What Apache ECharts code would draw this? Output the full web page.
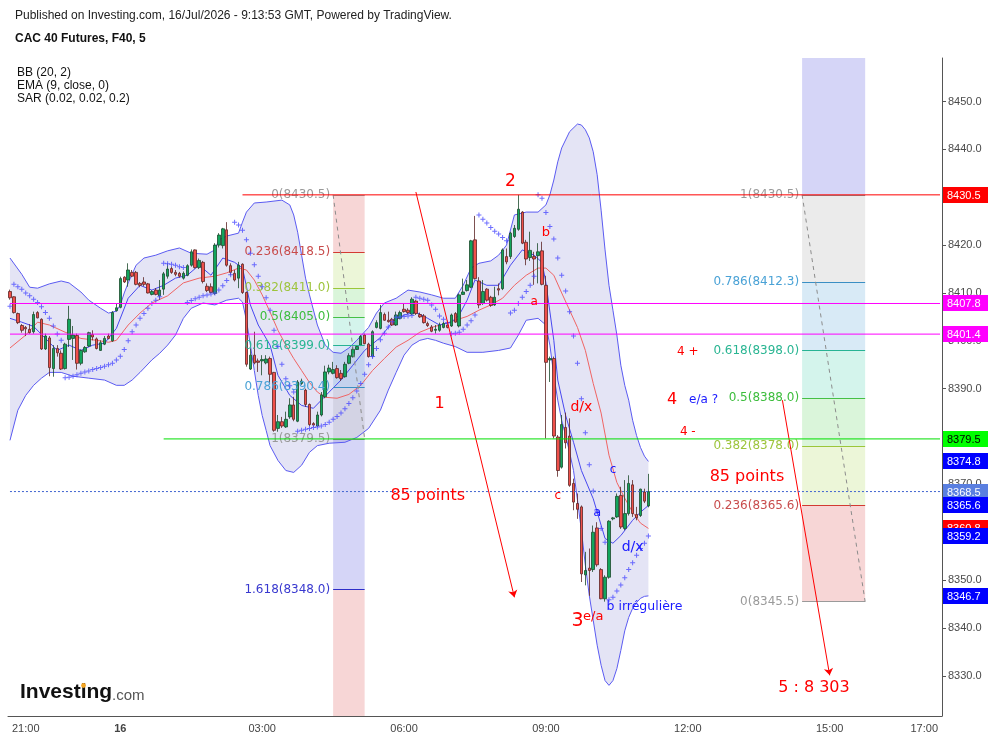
<!DOCTYPE html>
<html>
<head>
<meta charset="utf-8">
<title>CAC 40 Futures, F40, 5</title>
<script src="https://cdn.jsdelivr.net/npm/echarts@6.0.0/dist/echarts.min.js"></script>
<style>html,body{margin:0;padding:0;background:#fff;}#chart{width:993px;height:741px;}</style>
</head>
<body>
<div id="chart"></div>
<script>
// ---------------- DATA ----------------
// 5-minute candles from 20:40 to 11:10, [open, close, low, high]
const ohlc = [
[8410.3,8409.0,8408.6,8410.7],[8409.2,8405.9,8405.7,8409.3],[8405.7,8403.8,8403.5,8405.9],[8403.2,8402.2,8401.7,8403.5],
[8402.8,8402.5,8401.0,8403.1],[8402.4,8401.7,8401.5,8403.5],[8401.9,8405.5,8401.5,8406.1],[8405.9,8404.8,8404.7,8406.2],
[8404.5,8398.3,8398.1,8404.7],[8398.3,8401.0,8398.1,8401.5],[8400.6,8394.4,8392.6,8401.0],[8394.2,8398.4,8392.5,8399.1],
[8398.4,8397.5,8396.7,8399.1],[8397.4,8394.1,8393.9,8398.0],[8394.2,8399.3,8394.0,8399.6],[8400.3,8404.5,8398.7,8407.3],
[8400.5,8401.2,8396.0,8403.1],[8401.1,8395.3,8394.0,8401.5],[8395.3,8398.0,8394.9,8398.2],[8397.7,8398.6,8397.5,8398.9],
[8398.9,8401.7,8398.7,8401.9],[8401.3,8400.8,8400.1,8402.2],[8400.4,8398.4,8398.2,8400.7],[8398.0,8399.6,8397.9,8400.1],
[8399.3,8400.5,8399.1,8401.0],[8401.0,8400.5,8400.3,8401.5],[8400.0,8405.9,8399.8,8406.2],[8406.3,8406.9,8406.1,8407.8],
[8407.0,8413.0,8406.8,8413.4],[8413.3,8412.3,8412.1,8413.5],[8412.7,8414.8,8411.3,8416.2],[8414.3,8413.5,8413.3,8414.8],
[8414.3,8411.8,8411.6,8414.6],[8412.0,8411.6,8411.2,8412.3],[8412.3,8411.8,8411.4,8413.3],[8411.9,8410.0,8409.9,8412.1],
[8409.7,8410.3,8409.5,8410.6],[8410.6,8409.7,8409.5,8411.0],[8409.4,8410.6,8408.6,8412.7],[8410.8,8414.0,8409.6,8414.4],
[8413.5,8415.0,8413.0,8416.2],[8415.1,8414.3,8414.0,8415.5],[8414.3,8413.9,8413.5,8414.8],[8414.1,8413.5,8413.2,8414.4],
[8413.1,8414.1,8412.8,8414.5],[8413.7,8415.7,8413.5,8416.0],[8415.8,8418.6,8415.5,8419.1],[8419.0,8415.3,8415.1,8419.1],
[8415.3,8416.8,8415.0,8417.2],[8416.4,8412.4,8412.0,8416.7],[8411.4,8410.5,8410.2,8412.0],[8411.3,8410.1,8409.9,8412.0],
[8409.9,8420.0,8409.6,8420.4],[8420.0,8422.1,8419.5,8422.5],[8419.9,8423.4,8419.3,8423.6],[8423.2,8415.8,8415.5,8424.8],
[8415.7,8414.3,8413.7,8416.2],[8414.1,8412.7,8412.4,8414.8],[8413.1,8415.8,8411.0,8416.5],[8416.0,8410.1,8409.8,8416.2],
[8410.1,8395.1,8394.6,8410.3],[8394.1,8397.0,8393.9,8398.4],[8397.0,8395.4,8395.1,8401.9],[8395.8,8395.5,8393.5,8396.3],
[8395.8,8396.1,8392.8,8397.0],[8395.4,8396.2,8395.1,8397.0],[8396.3,8393.0,8391.1,8396.7],[8393.4,8381.3,8381.0,8393.5],
[8381.7,8383.1,8381.0,8384.5],[8383.1,8382.2,8381.8,8384.1],[8382.0,8383.6,8381.8,8385.2],[8384.1,8386.6,8383.7,8388.0],
[8386.6,8383.6,8383.2,8388.3],[8383.2,8391.4,8383.0,8391.8],[8391.1,8391.6,8390.8,8392.1],[8389.7,8386.7,8386.2,8390.0],
[8386.7,8382.5,8382.2,8386.9],[8382.7,8382.4,8382.0,8383.0],[8382.2,8384.5,8382.0,8385.2],[8384.5,8388.7,8384.2,8389.3],
[8388.3,8393.5,8388.0,8394.8],[8393.5,8394.3,8393.0,8395.0],[8393.2,8394.0,8393.0,8395.6],[8394.2,8392.3,8392.1,8394.9],
[8393.2,8392.1,8391.6,8393.9],[8392.5,8395.1,8392.3,8395.6],[8395.3,8396.9,8395.1,8397.4],[8396.7,8398.2,8396.5,8398.7],
[8398.2,8398.8,8398.1,8399.1],[8399.1,8400.9,8398.9,8401.2],[8401.2,8399.4,8399.3,8401.5],[8399.3,8396.7,8396.5,8399.6],
[8396.7,8401.9,8396.5,8402.2],[8402.8,8403.8,8402.6,8404.3],[8402.6,8405.9,8402.4,8407.5],[8405.5,8404.3,8404.2,8405.9],
[8404.3,8404.0,8403.8,8406.1],[8404.5,8403.3,8403.1,8404.8],[8403.3,8405.4,8403.1,8406.1],[8404.7,8405.9,8404.5,8406.3],
[8406.6,8406.1,8405.9,8407.8],[8406.4,8405.9,8405.6,8406.8],[8405.6,8408.7,8405.4,8409.1],[8408.3,8405.7,8405.4,8408.5],
[8405.5,8405.0,8404.8,8405.9],[8405.2,8403.8,8403.6,8405.6],[8403.6,8403.2,8402.9,8404.0],[8402.9,8402.0,8401.8,8403.3],
[8402.2,8402.4,8401.5,8403.3],[8402.2,8403.3,8401.9,8403.8],[8402.8,8403.6,8402.6,8404.0],[8403.3,8402.8,8402.6,8403.6],
[8403.1,8405.4,8402.9,8405.7],[8405.7,8403.9,8403.8,8406.0],[8403.1,8409.6,8402.8,8409.9],[8409.7,8410.2,8409.6,8413.0],
[8410.5,8411.7,8410.3,8412.7],[8411.2,8420.9,8411.0,8421.1],[8421.1,8413.0,8412.8,8426.1],[8412.5,8407.5,8406.8,8413.3],
[8407.8,8410.3,8407.5,8412.7],[8410.8,8408.5,8408.2,8411.0],[8409.1,8407.4,8407.1,8409.4],[8407.5,8409.1,8407.3,8411.3],
[8410.9,8410.6,8409.5,8412.0],[8410.9,8419.0,8410.6,8419.3],[8417.6,8416.5,8416.0,8419.3],[8417.6,8422.5,8417.1,8422.8],
[8421.8,8423.5,8421.5,8424.2],[8423.3,8427.5,8423.0,8430.5],[8426.9,8420.4,8420.2,8427.1],[8420.6,8417.1,8415.8,8421.1],
[8417.4,8418.9,8416.7,8422.8],[8417.6,8417.1,8411.7,8418.6],[8417.8,8418.6,8412.0,8420.4],[8418.8,8411.8,8411.6,8420.7],
[8411.6,8395.5,8379.6,8413.6],[8396.0,8396.3,8391.4,8396.7],[8396.3,8380.1,8379.6,8396.7],[8379.9,8372.9,8371.6,8380.3],
[8373.6,8382.5,8373.3,8384.5],[8381.9,8378.7,8377.5,8385.0],[8380.1,8369.8,8369.5,8383.8],[8370.2,8366.3,8364.6,8371.2],
[8366.0,8364.8,8362.8,8368.1],[8365.3,8351.3,8349.6,8365.6],[8351.1,8352.0,8348.9,8355.9],[8352.5,8352.0,8346.7,8356.6],
[8352.2,8360.0,8351.7,8361.4],[8360.9,8353.2,8352.8,8362.1],[8352.2,8346.1,8346.0,8352.5],[8346.1,8350.6,8345.5,8351.0],
[8350.6,8362.3,8350.3,8362.5],[8362.8,8363.0,8362.5,8363.2],[8363.2,8367.5,8363.0,8368.1],[8367.7,8361.1,8360.7,8369.5],
[8360.8,8363.9,8360.4,8370.9],[8363.9,8370.2,8363.5,8371.9],[8369.9,8363.9,8363.2,8370.9],[8363.7,8363.0,8362.5,8365.3],
[8363.5,8369.0,8363.2,8369.1],[8368.4,8366.5,8366.1,8369.1],[8365.5,8368.5,8365.2,8372.2]
];

// Bollinger upper / lower / basis and EMA(9), read at [barIndex, value]
const bbUpper = [[0,8417.3],[3,8413.9],[5,8411.2],[7,8411.0],[10,8411.9],[13,8412.5],[15,8412.1],[18,8410.2],[20,8408.5],[23,8406.8],[25,8405.8],[27,8406.2],[28,8407.5],[29,8410.0],[30,8412.1],[32,8415.8],[34,8417.3],[37,8417.9],[40,8418.8],[43,8419.4],[46,8418.3],[50,8418.1],[52,8419.0],[53,8421.1],[55,8421.9],[58,8422.5],[59,8424.8],[60,8426.9],[62,8428.8],[65,8429.0],[69,8429.4],[71,8428.4],[72,8426.3],[73,8422.7],[74,8417.9],[75,8413.1],[76,8409.6],[78,8403.3],[80,8399.1],[82,8397.6],[84,8397.4],[86,8398.5],[88,8400.1],[91,8402.8],[93,8405.8],[95,8407.9],[98,8408.9],[101,8410.6],[104,8410.2],[107,8409.6],[110,8408.9],[113,8408.9],[115,8411.6],[117,8415.2],[119,8416.2],[122,8416.7],[124,8417.9],[126,8420.0],[128,8426.3],[131,8426.9],[134,8426.9],[136,8428.4],[137,8430.5],[138,8433.6],[139,8437.4],[140,8440.3],[142,8443.7],[144,8445.3],[145,8445.1],[146,8444.1],[147,8442.4],[148,8439.5],[149,8434.7],[150,8427.3],[151,8419.0],[152,8411.6],[153,8406.4],[154,8401.2],[155,8394.9],[156,8390.7],[157,8387.6],[158,8383.4],[159,8380.2],[160,8377.7],[161,8375.9],[162,8374.8]];
const bbLower = [[0,8379.2],[2,8385.5],[4,8388.6],[6,8390.7],[8,8392.2],[10,8393.4],[13,8393.4],[16,8392.6],[20,8392.2],[24,8391.8],[27,8390.7],[29,8390.7],[31,8391.8],[33,8393.4],[36,8396.0],[38,8397.4],[40,8399.1],[42,8401.2],[44,8404.7],[46,8406.8],[49,8407.9],[52,8407.5],[55,8408.5],[58,8408.9],[59,8408.1],[60,8404.3],[61,8399.1],[62,8393.8],[63,8388.6],[64,8384.4],[65,8381.3],[66,8378.1],[68,8375.0],[70,8372.9],[72,8372.5],[74,8374.0],[76,8376.7],[78,8378.1],[81,8378.6],[85,8378.8],[88,8379.8],[91,8381.7],[94,8385.5],[96,8389.7],[98,8393.4],[100,8397.0],[102,8399.1],[104,8400.1],[106,8400.5],[108,8400.1],[110,8399.5],[113,8398.8],[116,8397.6],[120,8397.6],[124,8398.0],[127,8398.5],[129,8401.2],[131,8404.3],[134,8404.7],[136,8403.3],[137,8399.1],[138,8392.8],[139,8387.6],[140,8383.4],[141,8380.2],[142,8376.7],[143,8372.9],[144,8366.7],[145,8360.4],[146,8353.1],[147,8346.8],[148,8341.6],[149,8336.4],[150,8332.2],[151,8329.0],[152,8328.0],[153,8329.0],[154,8331.5],[155,8335.3],[156,8339.4],[157,8342.2],[158,8344.1],[159,8345.3],[160,8346.2],[161,8346.6],[162,8346.7]];
const bbBasis = [[0,8398.5],[4,8401.2],[7,8403.9],[10,8403.3],[14,8401.8],[18,8400.5],[22,8400.1],[25,8399.7],[27,8400.1],[30,8403.3],[33,8405.8],[36,8407.9],[40,8409.4],[44,8412.1],[48,8413.1],[52,8413.5],[55,8414.2],[58,8415.2],[60,8414.8],[62,8412.7],[64,8409.6],[66,8406.0],[68,8402.2],[70,8399.1],[72,8396.3],[74,8393.8],[76,8391.3],[78,8389.3],[80,8388.2],[83,8388.0],[86,8388.8],[89,8390.7],[92,8393.8],[95,8396.3],[98,8398.7],[101,8400.1],[104,8401.8],[107,8402.8],[110,8403.5],[113,8404.3],[116,8405.1],[119,8406.4],[122,8407.5],[125,8408.9],[128,8411.6],[131,8413.7],[134,8415.2],[136,8415.2],[138,8413.7],[140,8410.0],[142,8406.4],[144,8402.8],[146,8398.0],[148,8391.1],[150,8384.9],[152,8376.1],[154,8370.4],[156,8367.1],[158,8364.2],[160,8361.9],[162,8360.8]];
const ema9 = [[0,8404.7],[3,8403.9],[6,8403.0],[9,8400.5],[12,8398.0],[15,8399.1],[18,8398.0],[21,8399.1],[24,8399.5],[27,8402.6],[30,8408.9],[33,8411.6],[36,8410.6],[39,8411.6],[42,8413.1],[45,8413.7],[48,8415.8],[51,8413.7],[54,8417.3],[57,8416.4],[59,8415.2],[61,8407.5],[63,8403.3],[66,8399.1],[68,8392.8],[71,8388.6],[74,8386.5],[77,8385.9],[79,8387.6],[81,8389.3],[84,8391.8],[87,8394.9],[90,8398.0],[94,8400.7],[97,8403.9],[100,8405.4],[103,8406.0],[106,8404.7],[109,8403.3],[112,8403.9],[114,8405.4],[116,8408.5],[118,8412.7],[121,8411.6],[124,8411.6],[127,8415.8],[130,8419.0],[133,8417.9],[135,8416.4],[136,8412.1],[138,8400.1],[139,8391.8],[141,8384.4],[143,8378.8],[145,8372.9],[148,8367.0],[151,8358.7],[153,8357.7],[155,8359.3],[158,8362.5],[160,8364.2],[162,8365.6]];
// Parabolic SAR, one value per bar
const sarValues = [8407.2,8411.8,8411.3,8410.8,8410.0,8409.4,8408.7,8408.0,8407.1,8405.9,8404.7,8403.1,8401.4,8400.1,8392.3,8392.4,8392.6,8392.9,8393.2,8393.5,
8393.7,8394.0,8394.2,8394.4,8394.7,8395.0,8395.3,8396.0,8396.8,8398.2,8400.0,8401.9,8403.3,8404.7,8405.7,8406.8,8407.8,8408.5,8409.2,8416.2,
8416.1,8416.0,8415.8,8415.5,8415.3,8408.0,8408.4,8408.8,8409.1,8409.4,8409.6,8409.8,8410.0,8410.6,8411.5,8412.6,8413.8,8424.8,8424.2,8423.1,
8421.1,8418.3,8415.9,8413.5,8411.3,8409.0,8406.4,8402.2,8398.8,8395.1,8392.1,8390.6,8389.3,8381.1,8381.3,8381.5,8381.7,8381.9,8382.0,8382.2,
8382.5,8383.0,8383.6,8384.2,8384.9,8385.8,8386.9,8388.1,8389.5,8391.1,8393.0,8395.0,8396.7,8398.4,8400.2,8401.6,8402.9,8404.0,8404.9,8405.0,
8405.1,8405.2,8405.3,8409.1,8408.9,8408.7,8408.5,8407.5,8406.6,8405.2,8404.5,8403.8,8401.5,8401.6,8401.8,8402.4,8403.3,8404.2,8405.4,8426.3,
8425.4,8424.6,8423.7,8422.9,8422.3,8421.6,8420.9,8405.8,8406.4,8407.8,8409.1,8410.3,8411.6,8413.5,8430.5,8429.8,8426.8,8423.9,8421.3,8417.3,
8413.7,8410.4,8406.1,8401.0,8395.3,8387.9,8380.8,8374.1,8368.6,8364.3,8360.8,8357.9,8345.9,8346.4,8347.7,8349.0,8350.5,8352.2,8353.6,8355.2,
8356.6,8357.7,8359.2];

// Fibonacci retracements
const fibLeftLevels  = ['0','0.236','0.382','0.5','0.618','0.786','1','1.618'];
const fibLeftPrices  = [8430.5, 8418.5, 8411.0, 8405.0, 8399.0, 8390.4, 8379.5, 8348.0];
const fibLeftSpan    = ['04:30', '05:10'];
const fibRightLevels = ['1','0.786','0.618','0.5','0.382','0.236','0'];
const fibRightPrices = [8430.5, 8412.3, 8398.0, 8388.0, 8378.0, 8365.6, 8345.5];
const fibRightSpan   = ['14:25', '15:45'];

// Horizontal levels
const redLevel = 8430.5, redLevelFrom = '02:35';
const magentaLevels = [8407.8, 8401.4];
const greenLevel = 8379.5, greenLevelFrom = '00:55';
const lastPrice = 8368.5;

// Right-axis value tags
const tagValues = [8430.5, 8407.8, 8401.4, 8379.5, 8374.8, 8368.5, 8365.6, 8360.8, 8359.2, 8346.7];

// Arrows [fromTime, fromPrice, toTime, toPrice]
const arrows = [['06:15', 8431.1, '08:20', 8346.4], ['14:00', 8387.6, '15:00', 8330.1]];

// Text annotations [text, time, price]
const notes = [
  ['2','08:15',8433.2],['1','06:45',8386.8],['85 points','06:30',8367.7],['3','09:40',8341.4],['e/a','10:00',8342.4],
  ['b irrégulière','11:05',8344.5],['a','08:45',8408.1],['b','09:00',8422.7],['d/x','09:45',8386.1],['c','09:15',8367.7],
  ['c','10:25',8373.1],['a','10:05',8364.0],['d/x','10:50',8356.9],['4 +','12:00',8397.6],['4','11:40',8387.6],
  ['e/a ?','12:20',8387.6],['4 -','12:00',8380.9],['85 points','13:15',8371.5],['5 : 8 303','14:40',8327.5]
];

const yTicks = [8330, 8340, 8350, 8360, 8370, 8380, 8390, 8400, 8410, 8420, 8430, 8440, 8450];
const xTickLabels = ['21:00', '00:00', '03:00', '06:00', '09:00', '12:00', '15:00', '17:00'];

// ---------------- STYLES ----------------
const noteStyle = [
  ['#ff0000',17],['#ff0000',16],['#ff0000',16],['#ff0000',19],['#ff0000',13],
  ['#1a1aff',12.5],['#ff0000',12],['#ff0000',13],['#ff0000',14],['#ff0000',12],
  ['#1a1aff',12],['#1a1aff',13],['#1a1aff',14],['#ff0000',12],['#ff0000',16],
  ['#1a1aff',12],['#ff0000',12],['#ff0000',16],['#ff0000',16]
];
const fibStyle = {
  '0':     {line:'#9a9a9a', text:'#9a9a9a'},
  '0.236': {line:'#d33a33', text:'#c84c4c', fill:'rgba(225,90,90,0.25)'},
  '0.382': {line:'#9cc63a', text:'#9dc43c', fill:'rgba(160,210,60,0.2)'},
  '0.5':   {line:'#46c046', text:'#3dbd3d', fill:'rgba(60,200,60,0.19)'},
  '0.618': {line:'#27b394', text:'#29b592', fill:'rgba(40,200,160,0.2)'},
  '0.786': {line:'#3a8fc4', text:'#4aa2d6', fill:'rgba(60,150,210,0.2)'},
  '1':     {line:'#8a8a8a', text:'#9a9a9a', fill:'rgba(128,128,128,0.16)'},
  '1.618': {line:'#2e2ec8', text:'#3838cf', fill:'rgba(80,80,220,0.24)'},
  'beyond':{fill:'rgba(225,90,90,0.25)'}
};
const tagBg = ['#ff0000','#ff00ff','#ff00ff','#00ff00','#0000ff','#5a7fe0','#0000ff','#ff0000','#0000ff','#0000ff'];
const yMin = 8321.6, yMax = 8459.1;
const CLEAR = 'rgba(0,0,0,0)';

// ---------------- AXIS CATEGORIES ----------------
const categories = [];
function pad(n) { return (n < 10 ? '0' : '') + n; }
function addSession(a, b) { for (let t = a; t <= b; t += 5) categories.push(pad(Math.floor(t / 60)) + ':' + pad(t % 60)); }
addSession(20 * 60 + 40, 21 * 60 + 55);
addSession(23 * 60, 23 * 60 + 55);
addSession(0, 17 * 60 + 20);
const firstCat = categories[0];
const lastCat = categories[categories.length - 1];

// ---------------- BUILD MARKERS ----------------
function fibMarkers(levels, prices, span, beyondEdge) {
  const areas = [], lines = [];
  const order = ['0','0.236','0.382','0.5','0.618','0.786','1','1.618'];
  for (let k = 0; k < levels.length - 1; k++) {
    const a = levels[k], b = levels[k + 1];
    const deeper = order.indexOf(a) > order.indexOf(b) ? a : b;
    areas.push([{coord: [span[0], prices[k]], itemStyle: {color: fibStyle[deeper].fill}}, {coord: [span[1], prices[k + 1]]}]);
  }
  if (levels[levels.length - 1] === '1.618')
    areas.push([{coord: [span[0], prices[prices.length - 1]], itemStyle: {color: fibStyle.beyond.fill}}, {coord: [span[1], beyondEdge]}]);
  if (levels[0] === '1')
    areas.push([{coord: [span[0], prices[0]], itemStyle: {color: fibStyle['1.618'].fill}}, {coord: [span[1], beyondEdge]}]);
  for (let k = 0; k < levels.length; k++) {
    const st = fibStyle[levels[k]];
    lines.push([{coord: [span[0], prices[k]], lineStyle: {color: st.line, width: 1, type: 'solid'},
      label: {show: true, position: 'start', distance: 3, formatter: levels[k] + '(' + prices[k].toFixed(1) + ')', color: st.text,
        fontFamily: 'DejaVu Sans', fontSize: 12}}, {coord: [span[1], prices[k]]}]);
  }
  return {areas, lines};
}
const fibL = fibMarkers(fibLeftLevels, fibLeftPrices, fibLeftSpan, yMin);
const fibR = fibMarkers(fibRightLevels, fibRightPrices, fibRightSpan, yMax);
const trendDashes = [
  [{coord: [fibLeftSpan[0], fibLeftPrices[0]]}, {coord: [fibLeftSpan[1], fibLeftPrices[6]]}],
  [{coord: [fibRightSpan[0], fibRightPrices[0]]}, {coord: [fibRightSpan[1], fibRightPrices[fibRightPrices.length - 1]]}]
];

// plain line series for the horizontal levels
function hLine(name, from, to, value, color, type) {
  return {name, type: 'line', z: 5, silent: true, showSymbol: false, symbol: 'none',
    data: [[from, value], [to, value]], itemStyle: {color},
    lineStyle: {color, width: 1, type: type || 'solid', opacity: 1}, emphasis: {disabled: true}};
}

const arrowLines = arrows.map(a => [{coord: [a[0], a[1]]}, {coord: [a[2], a[3]]}]);

const noteData = notes.map((n, k) => ({
  value: [n[1], n[2]],
  label: {show: true, position: 'inside', formatter: n[0], color: noteStyle[k][0], fontSize: noteStyle[k][1],
    fontFamily: 'DejaVu Sans', opacity: 1}
}));

const xTickSet = new Set(xTickLabels);
const showTick = (idx, val) => xTickSet.has(val);

// ---------------- CHART ----------------
const chart = echarts.init(document.getElementById('chart'), null, {renderer: 'canvas'});
chart.setOption({
  animation: false,
  backgroundColor: '#ffffff',
  grid: {left: 8, right: 51, top: 58, bottom: 25, containLabel: false},
  xAxis: {
    type: 'category', data: categories, boundaryGap: true,
    axisLine: {lineStyle: {color: '#555', width: 1}},
    axisTick: {interval: showTick, alignWithLabel: true, length: 4, lineStyle: {color: '#555'}},
    axisLabel: {interval: showTick, color: '#444', fontSize: 11, margin: 7, fontFamily: 'Liberation Sans',
      formatter: v => v === '00:00' ? '{b|16}' : v, rich: {b: {fontWeight: 'bold', fontSize: 11, color: '#444'}}},
    splitLine: {show: false}
  },
  yAxis: {
    type: 'value', position: 'right', min: yMin, max: yMax, scale: true,
    axisLine: {show: true, lineStyle: {color: '#555'}},
    axisTick: {show: true, length: 4, customValues: yTicks, lineStyle: {color: '#555'}},
    axisLabel: {customValues: yTicks, formatter: v => v.toFixed(1), color: '#4a4a4a', fontSize: 11, margin: 6,
      fontFamily: 'Liberation Sans'},
    splitLine: {show: false},
    axisPointer: {show: false}
  },
  graphic: [
    {type: 'text', left: 15, top: 10, style: {text: 'Published on Investing.com, 16/Jul/2026 - 9:13:53 GMT, Powered by TradingView.',
      font: '12px "Liberation Sans"', fill: '#222'}},
    {type: 'text', left: 15, top: 33, style: {text: 'CAC 40 Futures, F40, 5', font: 'bold 12px "Liberation Sans"', fill: '#111'}},
    {type: 'text', left: 17, top: 66, style: {text: 'BB (20, 2)\nEMA (9, close, 0)\nSAR (0.02, 0.02, 0.2)',
      font: '12px "Liberation Sans"', fill: '#111', lineHeight: 13}},
    {type: 'text', left: 20, top: 682, z: 20, style: {text: 'Investing', font: 'bold 21px "Liberation Sans"', fill: '#111'}},
    {type: 'text', left: 112, top: 688, z: 20, style: {text: '.com', font: '15px "Liberation Sans"', fill: '#555'}},
    {type: 'circle', shape: {cx: 83.5, cy: 685.5, r: 2.4}, z: 21, style: {fill: '#f5a623'}}
  ],
  series: [
    { // Fibonacci zones
      name: 'fibZones', type: 'line', data: [], silent: true,
      markArea: {silent: true, z: 1, data: fibL.areas.concat(fibR.areas), label: {show: false}}
    },
    { // Bollinger band fill
      name: 'bbFill', type: 'custom', z: 1, silent: true, clip: true,
      data: [[0, bbUpper[0][1]]],
      renderItem: function (params, api) {
        const up = bbUpper.map(p => api.coord(p));
        const lo = bbLower.map(p => api.coord(p)).reverse();
        return {type: 'polygon', shape: {points: up.concat(lo)}, style: {fill: 'rgba(90,90,190,0.16)'}};
      }
    },
    {name: 'BB upper', type: 'line', data: bbUpper, showSymbol: false, z: 2, lineStyle: {color: '#5b5bf2', width: 1}, silent: true},
    {name: 'BB lower', type: 'line', data: bbLower, showSymbol: false, z: 2, lineStyle: {color: '#5b5bf2', width: 1}, silent: true},
    {name: 'BB basis', type: 'line', data: bbBasis, showSymbol: false, z: 2, lineStyle: {color: '#f06464', width: 1}, silent: true},
    {name: 'EMA 9', type: 'line', data: ema9, showSymbol: false, z: 2, lineStyle: {color: '#4848f0', width: 1}, silent: true},
    {
      name: 'CAC 40', type: 'candlestick', z: 3, barWidth: 3,
      data: ohlc,
      itemStyle: {color: '#12a55c', color0: '#f0504a', borderColor: '#1c4a2c', borderColor0: '#5c2424', borderWidth: 0.8}
    },
    {
      name: 'SAR', type: 'scatter', z: 4, silent: true,
      symbol: 'path://M2,0H3V2H5V3H3V5H2V3H0V2H2Z', symbolSize: 5,
      itemStyle: {color: '#4a4aff'},
      data: sarValues.map((v, k) => [k, v])
    },
    { // Fibonacci level lines and labels
      name: 'fibLines', type: 'line', data: [], silent: true,
      markLine: {silent: true, symbol: ['none', 'none'], z: 4, data: fibL.lines.concat(fibR.lines),
        label: {show: true}, lineStyle: {width: 1}}
    },
    { // dashed trend lines of the fibs
      name: 'fibTrend', type: 'line', data: [], silent: true,
      markLine: {silent: true, symbol: ['none', 'none'], z: 4, data: trendDashes, label: {show: false},
        lineStyle: {color: '#8c8c8c', width: 1, type: [4, 4]}}
    },
    hLine('redLevel', redLevelFrom, lastCat, redLevel, '#ff0000'),
    hLine('greenLevel', greenLevelFrom, lastCat, greenLevel, '#00e000'),
    hLine('magentaLevel1', firstCat, lastCat, magentaLevels[0], '#ff00ff'),
    hLine('magentaLevel2', firstCat, lastCat, magentaLevels[1], '#ff00ff'),
    hLine('lastPrice', firstCat, lastCat, lastPrice, '#3f63d0', [2, 2]),
    { // arrows
      name: 'arrows', type: 'line', data: [], silent: true,
      markLine: {silent: true, symbol: ['none', 'arrow'], symbolSize: 7, z: 5, data: arrowLines, label: {show: false},
        lineStyle: {color: '#ff0000', width: 1, type: 'solid'}, itemStyle: {color: '#ff0000'}}
    },
    { // annotations
      name: 'notes', type: 'scatter', z: 6, silent: true, symbolSize: 1, itemStyle: {color: CLEAR},
      data: noteData
    },
    { // value tags on the price axis, placed through the y scale
      name: 'tags', type: 'custom', z: 7, silent: true, clip: false,
      data: tagValues.map((v, k) => [lastCat, v, k]),
      renderItem: function (params, api) {
        const k = api.value(2);
        const v = tagValues[k];
        const p = api.coord([api.value(0), v]);
        const x0 = params.coordSys.x + params.coordSys.width + 1;
        return {type: 'group', children: [
          {type: 'rect', shape: {x: x0, y: Math.round(p[1]) - 8, width: 45, height: 16}, style: {fill: tagBg[k]}},
          {type: 'text', style: {x: x0 + 4, y: Math.round(p[1]) + 0.5, text: v.toFixed(1), fill: tagBg[k] === '#00ff00' ? '#000' : '#fff',
            font: '11px "Liberation Sans"', verticalAlign: 'middle', align: 'left'}}
        ]};
      }
    }
  ]
});
</script>
</body>
</html>
